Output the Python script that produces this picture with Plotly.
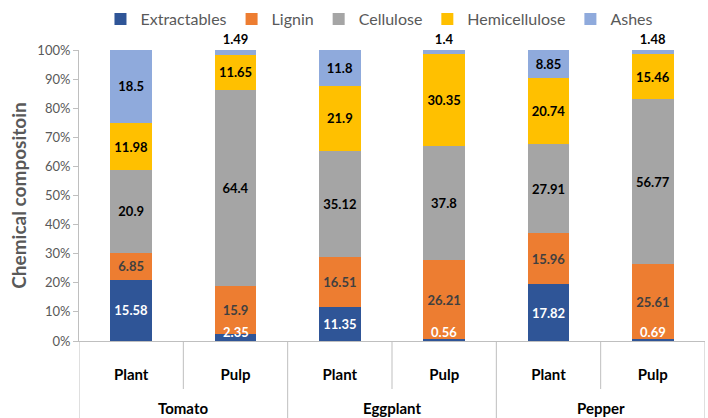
import plotly.graph_objects as go

crops = ["Tomato", "Tomato", "Eggplant", "Eggplant", "Pepper", "Pepper"]
parts = ["Plant", "Pulp", "Plant", "Pulp", "Plant", "Pulp"]
groups = ["Tomato", "Eggplant", "Pepper"]

extractables = [15.58, 2.35, 11.35, 0.56, 17.82, 0.69]
lignin = [6.85, 15.9, 16.51, 26.21, 15.96, 25.61]
cellulose = [20.9, 64.4, 35.12, 37.8, 27.91, 56.77]
hemicellulose = [11.98, 11.65, 21.9, 30.35, 20.74, 15.46]
ashes = [18.5, 1.49, 11.8, 1.4, 8.85, 1.48]

series = [
    ("Extractables", extractables, "#2F5597", "white"),
    ("Lignin", lignin, "#ED7D31", "#404040"),
    ("Cellulose", cellulose, "#A5A5A5", "black"),
    ("Hemicellulose", hemicellulose, "#FFC000", "black"),
    ("Ashes", ashes, "#8FAADC", "black"),
]

FONT = "Lato"
xs = list(range(len(parts)))
fig = go.Figure()
annotations = []
for name, vals, color, tcolor in series:
    texts = [str(v) for v in vals]
    tpos = "inside"
    if name == "Ashes":
        tpos = ["inside" if v > 5 else "outside" for v in vals]
    if name == "Extractables":
        # tiny segments: label sits at the bar base, as in the source
        for i, v in enumerate(vals):
            if v < 5:
                annotations.append(dict(
                    x=i, y=0, xref="x", yref="y", yanchor="bottom", yshift=-1,
                    text=f"<b>{v}</b>", showarrow=False,
                    font=dict(color=tcolor, size=13, family=FONT)))
        texts = [t if v >= 5 else "" for t, v in zip(texts, vals)]
    fig.add_trace(go.Bar(
        name=name,
        x=xs,
        y=vals,
        text=texts,
        texttemplate="%{text}",
        textposition=tpos,
        insidetextanchor="middle",
        constraintext="none",
        textangle=0,
        insidetextfont=dict(color=tcolor, size=13, family=FONT, weight="bold"),
        outsidetextfont=dict(color="black", size=13, family=FONT, weight="bold"),
        marker=dict(color=color, line=dict(width=0)),
        cliponaxis=False,
    ))

# group labels under the axis
for gi, g in enumerate(groups):
    annotations.append(dict(
        x=gi * 2 + 0.5, y=-0.23, xref="x", yref="paper", yanchor="middle",
        text=f"<b>{g}</b>", showarrow=False,
        font=dict(color="black", size=15, family=FONT)))

shapes = []
for b in range(len(parts) + 1):
    xb = b - 0.5
    y1 = -0.27 if b % 2 == 0 else -0.165
    shapes.append(dict(type="line", xref="x", yref="paper", x0=xb, x1=xb,
                       y0=0, y1=y1, line=dict(color="#BFBFBF", width=1)))

fig.update_layout(
    barmode="stack",
    barnorm="percent",
    bargap=0.6,
    width=708,
    height=418,
    paper_bgcolor="white",
    plot_bgcolor="white",
    margin=dict(l=79, r=3, t=50, b=77, autoexpand=False),
    font=dict(family=FONT, size=13, color="#595959"),
    legend=dict(orientation="h", x=0.48, xanchor="center", y=0.995, yanchor="top",
                yref="container", font=dict(size=16, color="#595959"),
                bgcolor="rgba(0,0,0,0)", traceorder="normal"),
    annotations=annotations,
    shapes=shapes,
)
fig.update_yaxes(
    range=[0, 100], dtick=10, ticksuffix="%", showgrid=False, zeroline=False,
    showline=True, linecolor="#BFBFBF", linewidth=1,
    ticks="outside", ticklen=5, tickcolor="#BFBFBF",
    tickfont=dict(size=13, color="#595959"),
    title=dict(text="Chemical compositoin", font=dict(size=19, color="#595959", weight="bold"), standoff=5),
    automargin=False,
)
fig.update_xaxes(
    range=[-0.5, len(parts) - 0.5],
    tickvals=xs, ticktext=parts,
    showline=True, linecolor="#BFBFBF", linewidth=1,
    showgrid=False, zeroline=False,
    ticks="outside", ticklen=20, tickcolor="rgba(0,0,0,0)",
    tickfont=dict(size=15, color="black", weight="bold"),
    automargin=False,
)
fig.write_html("out.html", config={"displayModeBar": False},
               post_script="document.body.style.margin='0';")
